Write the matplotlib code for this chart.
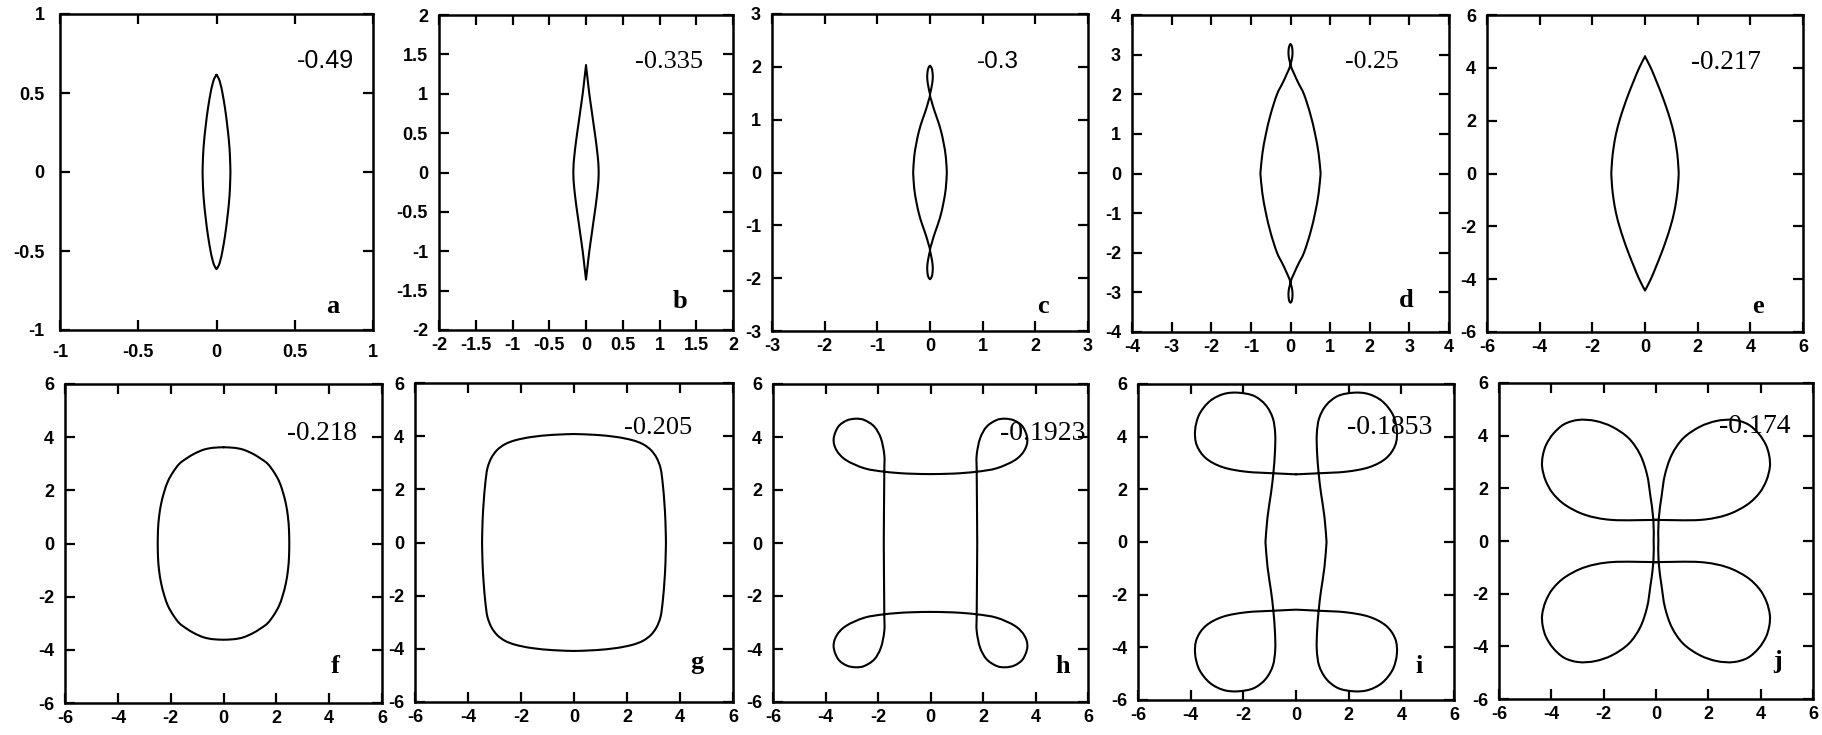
import numpy as np
import matplotlib.pyplot as plt
from matplotlib.path import Path
from matplotlib.patches import PathPatch

plt.rcParams["axes.unicode_minus"] = False

# contour traced through the first quadrant, from the y axis to the x axis;
# the other three quadrants are mirror images
a_x = [0, 0.015, 0.027, 0.038, 0.055, 0.068, 0.079, 0.086, 0.089]
a_y = [0.615, 0.59, 0.55, 0.5, 0.4, 0.3, 0.2, 0.1, 0]

b_x = [0, 0.02, 0.045, 0.075, 0.105, 0.135, 0.16, 0.17, 0.172]
b_y = [1.36, 1.2, 1.0, 0.8, 0.6, 0.4, 0.2, 0.08, 0]

c_x = [0, 0.03, 0.05, 0.05, 0.03, 0.012, 0, 0.03, 0.08, 0.15, 0.21, 0.26, 0.3, 0.32]
c_y = [2.02, 1.98, 1.88, 1.75, 1.62, 1.53, 1.46, 1.35, 1.18, 0.98, 0.78, 0.55, 0.3, 0]

d_x = [0, 0.03, 0.05, 0.045, 0.02, 0, 0.09, 0.2, 0.34, 0.5, 0.62, 0.71, 0.76]
d_y = [3.26, 3.22, 3.1, 2.95, 2.83, 2.74, 2.52, 2.28, 2.0, 1.5, 1.0, 0.5, 0]

e_x = [0, 0.22, 0.43, 0.63, 0.81, 0.97, 1.1, 1.19, 1.25, 1.28]
e_y = [4.43, 4.0, 3.5, 3.0, 2.5, 2.0, 1.5, 1.0, 0.5, 0]

f_x = [0, 0.4, 0.75, 1.1, 1.4, 1.67, 1.9, 2.1, 2.24, 2.36, 2.44, 2.48, 2.49]
f_y = [3.62, 3.6, 3.53, 3.38, 3.2, 3.0, 2.7, 2.35, 1.96, 1.5, 1.0, 0.5, 0]

g_x = [0, 0.8, 1.6, 2.2, 2.6, 2.9, 3.12, 3.27, 3.35, 3.41, 3.45, 3.47]
g_y = [4.08, 4.05, 3.97, 3.85, 3.7, 3.48, 3.18, 2.78, 2.2, 1.5, 0.8, 0]

h_x = [0, 0.9, 1.76, 2.52, 3.22, 3.58, 3.69, 3.52, 3.2, 2.85, 2.52, 2.14,
       1.89, 1.76, 1.76, 1.77, 1.78]
h_y = [2.6, 2.62, 2.69, 2.82, 3.13, 3.5, 3.92, 4.38, 4.62, 4.69, 4.64, 4.39,
       3.95, 3.32, 2.69, 1.5, 0]

i_x = [0, 0.86, 1.9, 2.78, 3.42, 3.77, 3.83, 3.67, 3.27, 2.75, 2.2, 1.6,
       1.15, 0.88, 0.79, 0.8, 0.86, 0.95, 1.08, 1.16]
i_y = [2.57, 2.61, 2.67, 2.84, 3.18, 3.68, 4.25, 4.85, 5.35, 5.62, 5.67, 5.55,
       5.2, 4.7, 4.1, 3.4, 2.61, 1.85, 0.96, 0]

j_x = [0, 0.1, 1.68, 2.7, 3.47, 3.95, 4.22, 4.35, 4.33, 4.2, 3.92, 3.5, 2.95,
       2.32, 1.68, 1.04, 0.6, 0.34, 0.22, 0.1, 0.09]
j_y = [0.8, 0.8, 0.8, 0.99, 1.37, 1.82, 2.3, 2.8, 3.22, 3.65, 4.08, 4.44, 4.6,
       4.56, 4.34, 3.9, 3.27, 2.51, 1.75, 0.8, 0]

curves_x = [a_x, b_x, c_x, d_x, e_x, f_x, g_x, h_x, i_x, j_x]
curves_y = [a_y, b_y, c_y, d_y, e_y, f_y, g_y, h_y, i_y, j_y]

panel_letters = ["a", "b", "c", "d", "e", "f", "g", "h", "i", "j"]
panel_values = [-0.49, -0.335, -0.3, -0.25, -0.217, -0.218, -0.205, -0.1923, -0.1853, -0.174]

panel_ticks = [
    [-1, -0.5, 0, 0.5, 1],
    [-2, -1.5, -1, -0.5, 0, 0.5, 1, 1.5, 2],
    [-3, -2, -1, 0, 1, 2, 3],
    [-4, -3, -2, -1, 0, 1, 2, 3, 4],
    [-6, -4, -2, 0, 2, 4, 6],
    [-6, -4, -2, 0, 2, 4, 6],
    [-6, -4, -2, 0, 2, 4, 6],
    [-6, -4, -2, 0, 2, 4, 6],
    [-6, -4, -2, 0, 2, 4, 6],
    [-6, -4, -2, 0, 2, 4, 6],
]

# axes boxes in pixels: left, right, top, bottom
W, H = 1822, 735
boxes = [
    (60, 373, 14, 330), (439, 733, 15, 330), (772, 1088, 14, 331),
    (1132, 1449, 15, 332), (1487, 1803, 15, 332),
    (65, 382, 384, 703), (415, 733, 383, 702), (773, 1088, 384, 702),
    (1138, 1454, 384, 700), (1499, 1813, 383, 699),
]
# value text: x centre, baseline (axes fraction), size, family
value_pos = [
    (0.847, 0.828, 18, "Liberation Sans"), (0.782, 0.831, 19, "Liberation Serif"),
    (0.715, 0.829, 17.5, "Liberation Sans"), (0.755, 0.832, 18.5, "Liberation Serif"),
    (0.757, 0.829, 19.5, "Liberation Serif"), (0.81, 0.824, 19.5, "Liberation Serif"),
    (0.765, 0.84, 19, "Liberation Serif"), (0.856, 0.824, 20, "Liberation Serif"),
    (0.798, 0.842, 20, "Liberation Serif"), (0.815, 0.841, 20, "Liberation Serif"),
]
letter_pos = [
    (0.87, 0.054), (0.82, 0.069), (0.858, 0.056), (0.864, 0.078), (0.858, 0.061),
    (0.852, 0.093), (0.887, 0.1025), (0.921, 0.09), (0.889, 0.0845), (0.888, 0.097),
]
tick_pads = [(10, 11)] + [(5, 8)] * 9


def quadrant_pieces(qx, qy):
    qx = np.asarray(qx, float)
    qy = np.asarray(qy, float)
    return [
        (qx, qy),
        (qx[::-1], -qy[::-1]),
        (-qx, -qy),
        (-qx[::-1], qy[::-1]),
    ]


def smooth_path(pieces):
    # Catmull-Rom through the traced points, written as cubic Bezier segments
    verts, codes = [], []
    for x, y in pieces:
        p = np.column_stack([x, y])
        if not verts:
            verts.append(p[0])
            codes.append(Path.MOVETO)
        q = np.vstack([p[0], p, p[-1]])
        for k in range(len(p) - 1):
            p0, p1, p2, p3 = q[k], q[k + 1], q[k + 2], q[k + 3]
            verts += [p1 + (p2 - p0) / 6.0, p2 - (p3 - p1) / 6.0, p2]
            codes += [Path.CURVE4] * 3
    return Path(verts, codes)


fig = plt.figure(figsize=(W / 100, H / 100), dpi=100)

for n in range(10):
    left, right, top, bottom = boxes[n]
    ax = fig.add_axes([left / W, 1 - bottom / H, (right - left) / W, (bottom - top) / H])
    ticks = panel_ticks[n]
    ax.set_xlim(ticks[0], ticks[-1])
    ax.set_ylim(ticks[0], ticks[-1])

    path = smooth_path(quadrant_pieces(curves_x[n], curves_y[n]))
    ax.add_patch(PathPatch(path, fill=False, edgecolor="black", lw=1.5, capstyle="round",
                           joinstyle="round"))

    labels = [f"{t:g}" for t in ticks]
    ax.set_xticks(ticks)
    ax.set_yticks(ticks)
    ax.set_xticklabels(labels)
    ax.set_yticklabels(labels)
    padx, pady = tick_pads[n]
    ax.tick_params(axis="both", direction="in", length=7, width=1.6, top=True, right=True,
                   labelsize=13, labelcolor="black")
    ax.tick_params(axis="x", pad=padx)
    ax.tick_params(axis="y", pad=pady)
    for lab in ax.get_xticklabels() + ax.get_yticklabels():
        lab.set_fontfamily("Liberation Sans")
        lab.set_fontweight("bold")
    for sp in ax.spines.values():
        sp.set_linewidth(1.8)

    vx, vy, vsize, vfam = value_pos[n]
    ax.text(vx, vy, str(panel_values[n]), transform=ax.transAxes, ha="center",
            va="baseline", fontsize=vsize, family=vfam)
    lx, ly = letter_pos[n]
    ax.text(lx, ly, panel_letters[n], transform=ax.transAxes, ha="center",
            va="baseline", fontsize=19, family="Liberation Serif", weight="bold")

fig.savefig("out.png", dpi=100)
